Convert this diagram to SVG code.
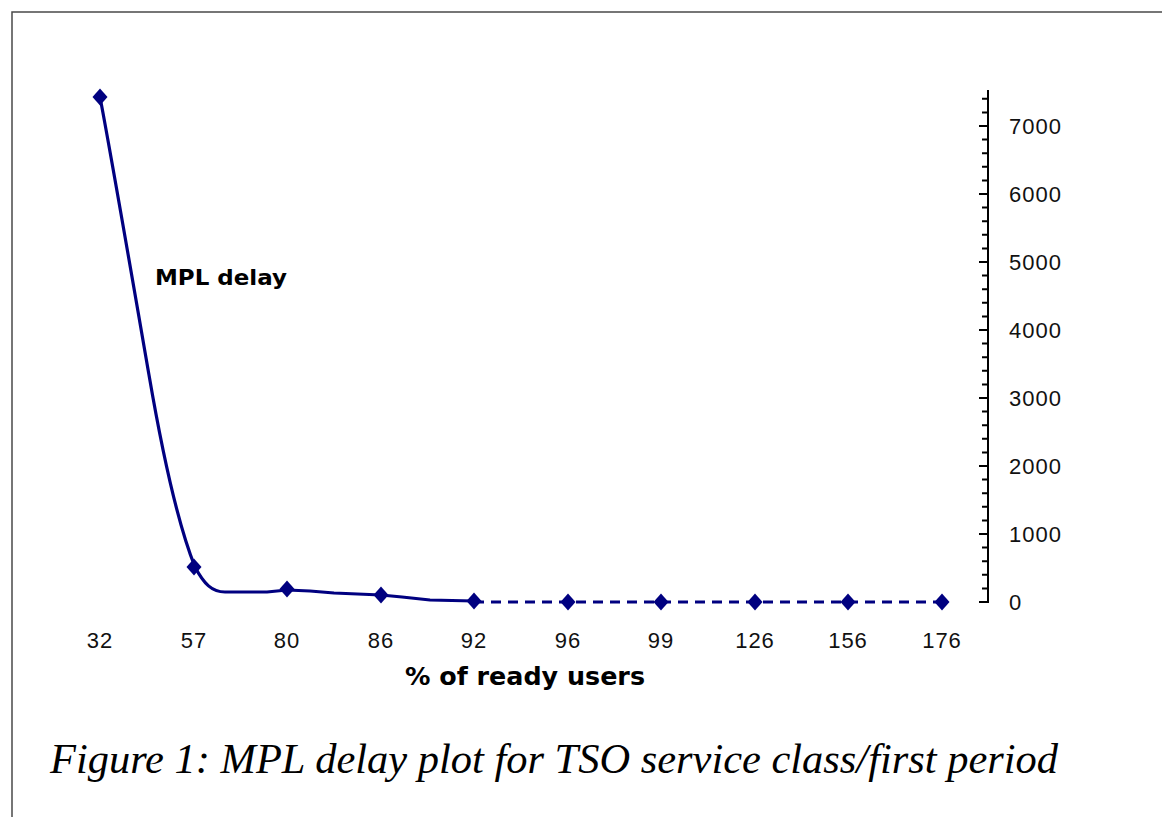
<svg xmlns="http://www.w3.org/2000/svg" width="1162" height="817" viewBox="0 0 1162 817">
<style>
.frame{fill:none;stroke:#4a4a4a;stroke-width:1.5}
.axis{fill:none;stroke:#000;stroke-width:2}
.tick{stroke:#000;stroke-width:2}
.series{fill:none;stroke:#000080;stroke-width:3.2;stroke-linejoin:round;stroke-linecap:round}
.dash{fill:none;stroke:#000080;stroke-width:3.2;stroke-dasharray:10 7}
.mk{fill:#000080}
.num{font-family:"Liberation Sans",Arial,sans-serif;font-size:22px;letter-spacing:1px;fill:#111}
.xl{text-anchor:middle}
.bold{font-family:"DejaVu Sans",sans-serif;font-weight:bold;fill:#000}
.cap{font-family:"Liberation Serif",serif;font-style:italic;font-size:42px;fill:#000}
</style>
<defs>
<path id="dm" d="M0,-8.5 L7.5,0 L0,8.5 L-7.5,0 Z"/>
</defs>
<g id="frame">
<polyline class="frame" points="12,817 12,12 1162,12"/>
</g>
<g id="y-axis">
<line class="axis" x1="988" y1="90" x2="988" y2="603"/>
<path class="tick" d="M979,602H988M979,534H988M979,466H988M979,398H988M979,330H988M979,262H988M979,194H988M979,126H988"/>
<path class="tick" d="M982,588.4H988M982,574.8H988M982,561.2H988M982,547.6H988M982,520.4H988M982,506.8H988M982,493.2H988M982,479.6H988M982,452.4H988M982,438.8H988M982,425.2H988M982,411.6H988M982,384.4H988M982,370.8H988M982,357.2H988M982,343.6H988M982,316.4H988M982,302.8H988M982,289.2H988M982,275.6H988M982,248.4H988M982,234.8H988M982,221.2H988M982,207.6H988M982,180.4H988M982,166.8H988M982,153.2H988M982,139.6H988M982,112.4H988M982,98.8H988"/>
<text class="num" x="1009" y="610">0</text>
<text class="num" x="1009" y="542">1000</text>
<text class="num" x="1009" y="474">2000</text>
<text class="num" x="1009" y="406">3000</text>
<text class="num" x="1009" y="338">4000</text>
<text class="num" x="1009" y="270">5000</text>
<text class="num" x="1009" y="202">6000</text>
<text class="num" x="1009" y="134">7000</text>
</g>
<g id="x-axis">
<text class="num xl" x="100" y="648">32</text>
<text class="num xl" x="194" y="648">57</text>
<text class="num xl" x="287" y="648">80</text>
<text class="num xl" x="381" y="648">86</text>
<text class="num xl" x="474" y="648">92</text>
<text class="num xl" x="568" y="648">96</text>
<text class="num xl" x="661" y="648">99</text>
<text class="num xl" x="755" y="648">126</text>
<text class="num xl" x="848" y="648">156</text>
<text class="num xl" x="942" y="648">176</text>
<text class="bold" x="405" y="685" font-size="25" textLength="240" lengthAdjust="spacingAndGlyphs">% of ready users</text>
</g>
<g id="series">
<path class="series" d="M100,97 C112,160 136,300 149,375 C161,445 177,522 195,567 C204,584 212,592 225,592 L267,592 L287,590 L310,591 L334,593 L381,595 L402,597 L430,600 L474,601"/>
<line class="dash" x1="474" y1="602" x2="942" y2="602"/>
<use class="mk" href="#dm" x="100" y="97"/>
<use class="mk" href="#dm" x="194" y="567"/>
<use class="mk" href="#dm" x="287" y="589"/>
<use class="mk" href="#dm" x="381" y="595"/>
<use class="mk" href="#dm" x="474" y="601"/>
<use class="mk" href="#dm" x="568" y="602"/>
<use class="mk" href="#dm" x="661" y="602"/>
<use class="mk" href="#dm" x="755" y="602"/>
<use class="mk" href="#dm" x="848" y="602"/>
<use class="mk" href="#dm" x="942" y="602"/>
<text class="bold" x="155" y="285" font-size="21" textLength="132" lengthAdjust="spacingAndGlyphs">MPL delay</text>
</g>
<g id="caption">
<text class="cap" x="50" y="773" textLength="1008" lengthAdjust="spacingAndGlyphs">Figure 1: MPL delay plot for TSO service class/first period</text>
</g>
</svg>
